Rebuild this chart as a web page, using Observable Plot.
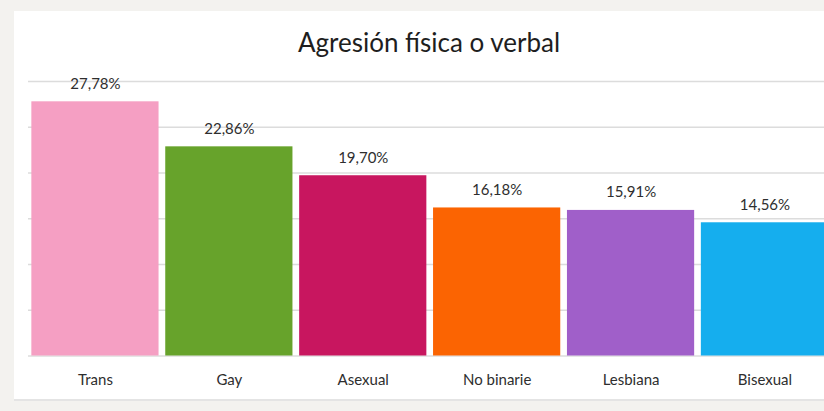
<!DOCTYPE html>
<html>
<head>
<meta charset="utf-8">
<script src="https://cdn.jsdelivr.net/npm/d3@7"></script>
<script src="https://cdn.jsdelivr.net/npm/@observablehq/plot@0.6"></script>
<style>
  html, body { margin: 0; padding: 0; background: #f3f2ef; overflow: hidden; width: 824px; height: 411px; }
  #card { position: absolute; left: 14px; top: 11px; width: 830px; height: 388px; background: #fff; border-bottom: 2px solid #e4e4e4; }
  #title { position: absolute; left: 0; top: 0; width: 830px; height: 50px; text-align: center; line-height: 62px; font-family: Lato, sans-serif; font-size: 26px; color: #1e1e1e; }
  #chart { position: absolute; left: 0; top: 50px; }
</style>
</head>
<body>
<div id="card">
  <div id="title">Agresión física o verbal</div>
  <div id="chart"></div>
</div>
<script>
const categories = ["Trans", "Gay", "Asexual", "No binarie", "Lesbiana", "Bisexual"];
const values = [27.78, 22.86, 19.70, 16.18, 15.91, 14.56];
const colors = ["#f59fc3", "#67a32b", "#c8165f", "#fb6402", "#a05fc9", "#15aeee"];
const gridTicks = [0, 5, 10, 15, 20, 25, 30];

const data = categories.map((c, i) => ({ cat: c, value: values[i], color: colors[i] }));
const fmt = v => v.toFixed(2).replace(".", ",") + "%";

const chart = Plot.plot({
  width: 830,
  height: 340,
  marginLeft: 14,
  marginRight: 12.6,
  marginTop: 20,
  marginBottom: 45.5,
  style: { fontFamily: "Lato, sans-serif", background: "transparent", overflow: "visible" },
  x: { domain: categories, paddingInner: 0.05, paddingOuter: 0.025, round: false, label: null },
  y: { domain: [0, 30], axis: null },
  marks: [
    Plot.ruleY(gridTicks, { stroke: "#dcdcdc", strokeWidth: 1.5 }),
    Plot.barY(data, { x: "cat", y: "value", fill: "color" }),
    Plot.text(data, { x: "cat", y: "value", text: d => fmt(d.value), dy: -18, fontSize: 15, fill: "#2e2e2e" }),
    Plot.axisX({ tickSize: 0, tickPadding: 18, fontSize: 15, color: "#2e2e2e", label: null })
  ]
});
document.getElementById("chart").appendChild(chart);
</script>
</body>
</html>
